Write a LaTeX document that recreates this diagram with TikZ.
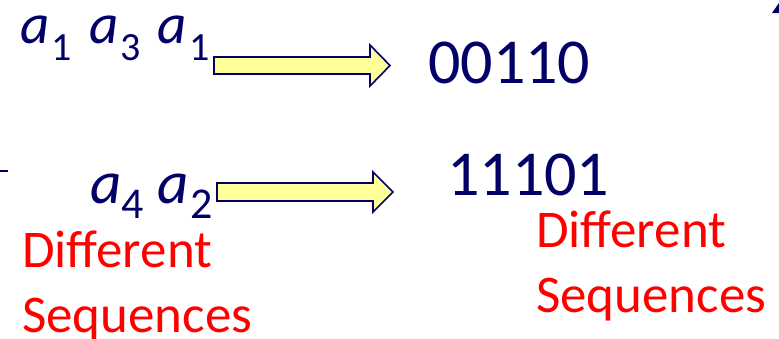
\documentclass[tikz,border=0pt]{standalone}
\usepackage{fontspec}
\setmainfont{Carlito}
\definecolor{inkblue}{HTML}{000066}
\definecolor{hlred}{HTML}{FF0000}
\definecolor{arrowfill}{HTML}{FFFF99}
\tikzset{
  glyph/.style={anchor=base west, inner sep=0pt, text=inkblue, text height=0.5em, text depth=0pt},
  sym/.style={glyph, font=\fontsize{57}{57}\selectfont\itshape},
  idx/.style={glyph, text height=0.65em, font=\fontsize{40}{40}\selectfont},
  symb/.style={glyph, font=\fontsize{61}{61}\selectfont\itshape},
  idxb/.style={glyph, text height=0.65em, font=\fontsize{44}{44}\selectfont},
  code/.style={anchor=base west, inner sep=0pt, text=inkblue, font=\fontsize{64}{64}\selectfont},
  note/.style={anchor=base west, inner sep=0pt, text=hlred, font=\fontsize{53}{65}\selectfont},
  blockarrow/.style={fill=arrowfill, draw=inkblue, line width=1.6pt, line join=miter}
}
\begin{document}
\begin{tikzpicture}[x=1pt,y=-1pt]
\useasboundingbox (0,0) rectangle (779,338);
% source symbols, first message
\node[sym] (s1) at (20,43) {a};
\node[idx] (s1i) at (51,60) {1};
\node[sym] (s2) at (89.5,43) {a};
\node[idx] (s2i) at (120,60) {3};
\node[sym] (s3) at (157.5,43) {a};
\node[idx] (s3i) at (189,60) {1};
% source symbols, second message
\node[symb] (t1) at (90,203) {a};
\node[idxb] (t1i) at (121,218) {4};
\node[symb] (t2) at (157,203) {a};
\node[idxb] (t2i) at (190,218) {2};
% encoded bit strings
\node[code] (c1) at (428,83) {00110};
\node[code] (c2) at (447,195) {11101};
% encoding arrows
\draw[blockarrow] (214,57) -- (370,57) -- (370,45) -- (390,65.5) -- (370,86) -- (370,74) -- (214,74) -- cycle;
\draw[blockarrow] (217,183) -- (373,183) -- (373,172) -- (393,192) -- (373,212) -- (373,201) -- (217,201) -- cycle;
% annotations
\node[note] (n1a) at (22,267) {Different};
\node[note] (n1b) at (22,332) {Sequences};
\node[note] (n2a) at (536,247) {Different};
\node[note] (n2b) at (536,312) {Sequences};
% stray marks at the edges
\draw[inkblue, line width=2pt] (0,171) -- (8,171);
\fill[inkblue] (772,13) -- (779,3) -- (779,13) -- cycle;
\end{tikzpicture}
\end{document}
